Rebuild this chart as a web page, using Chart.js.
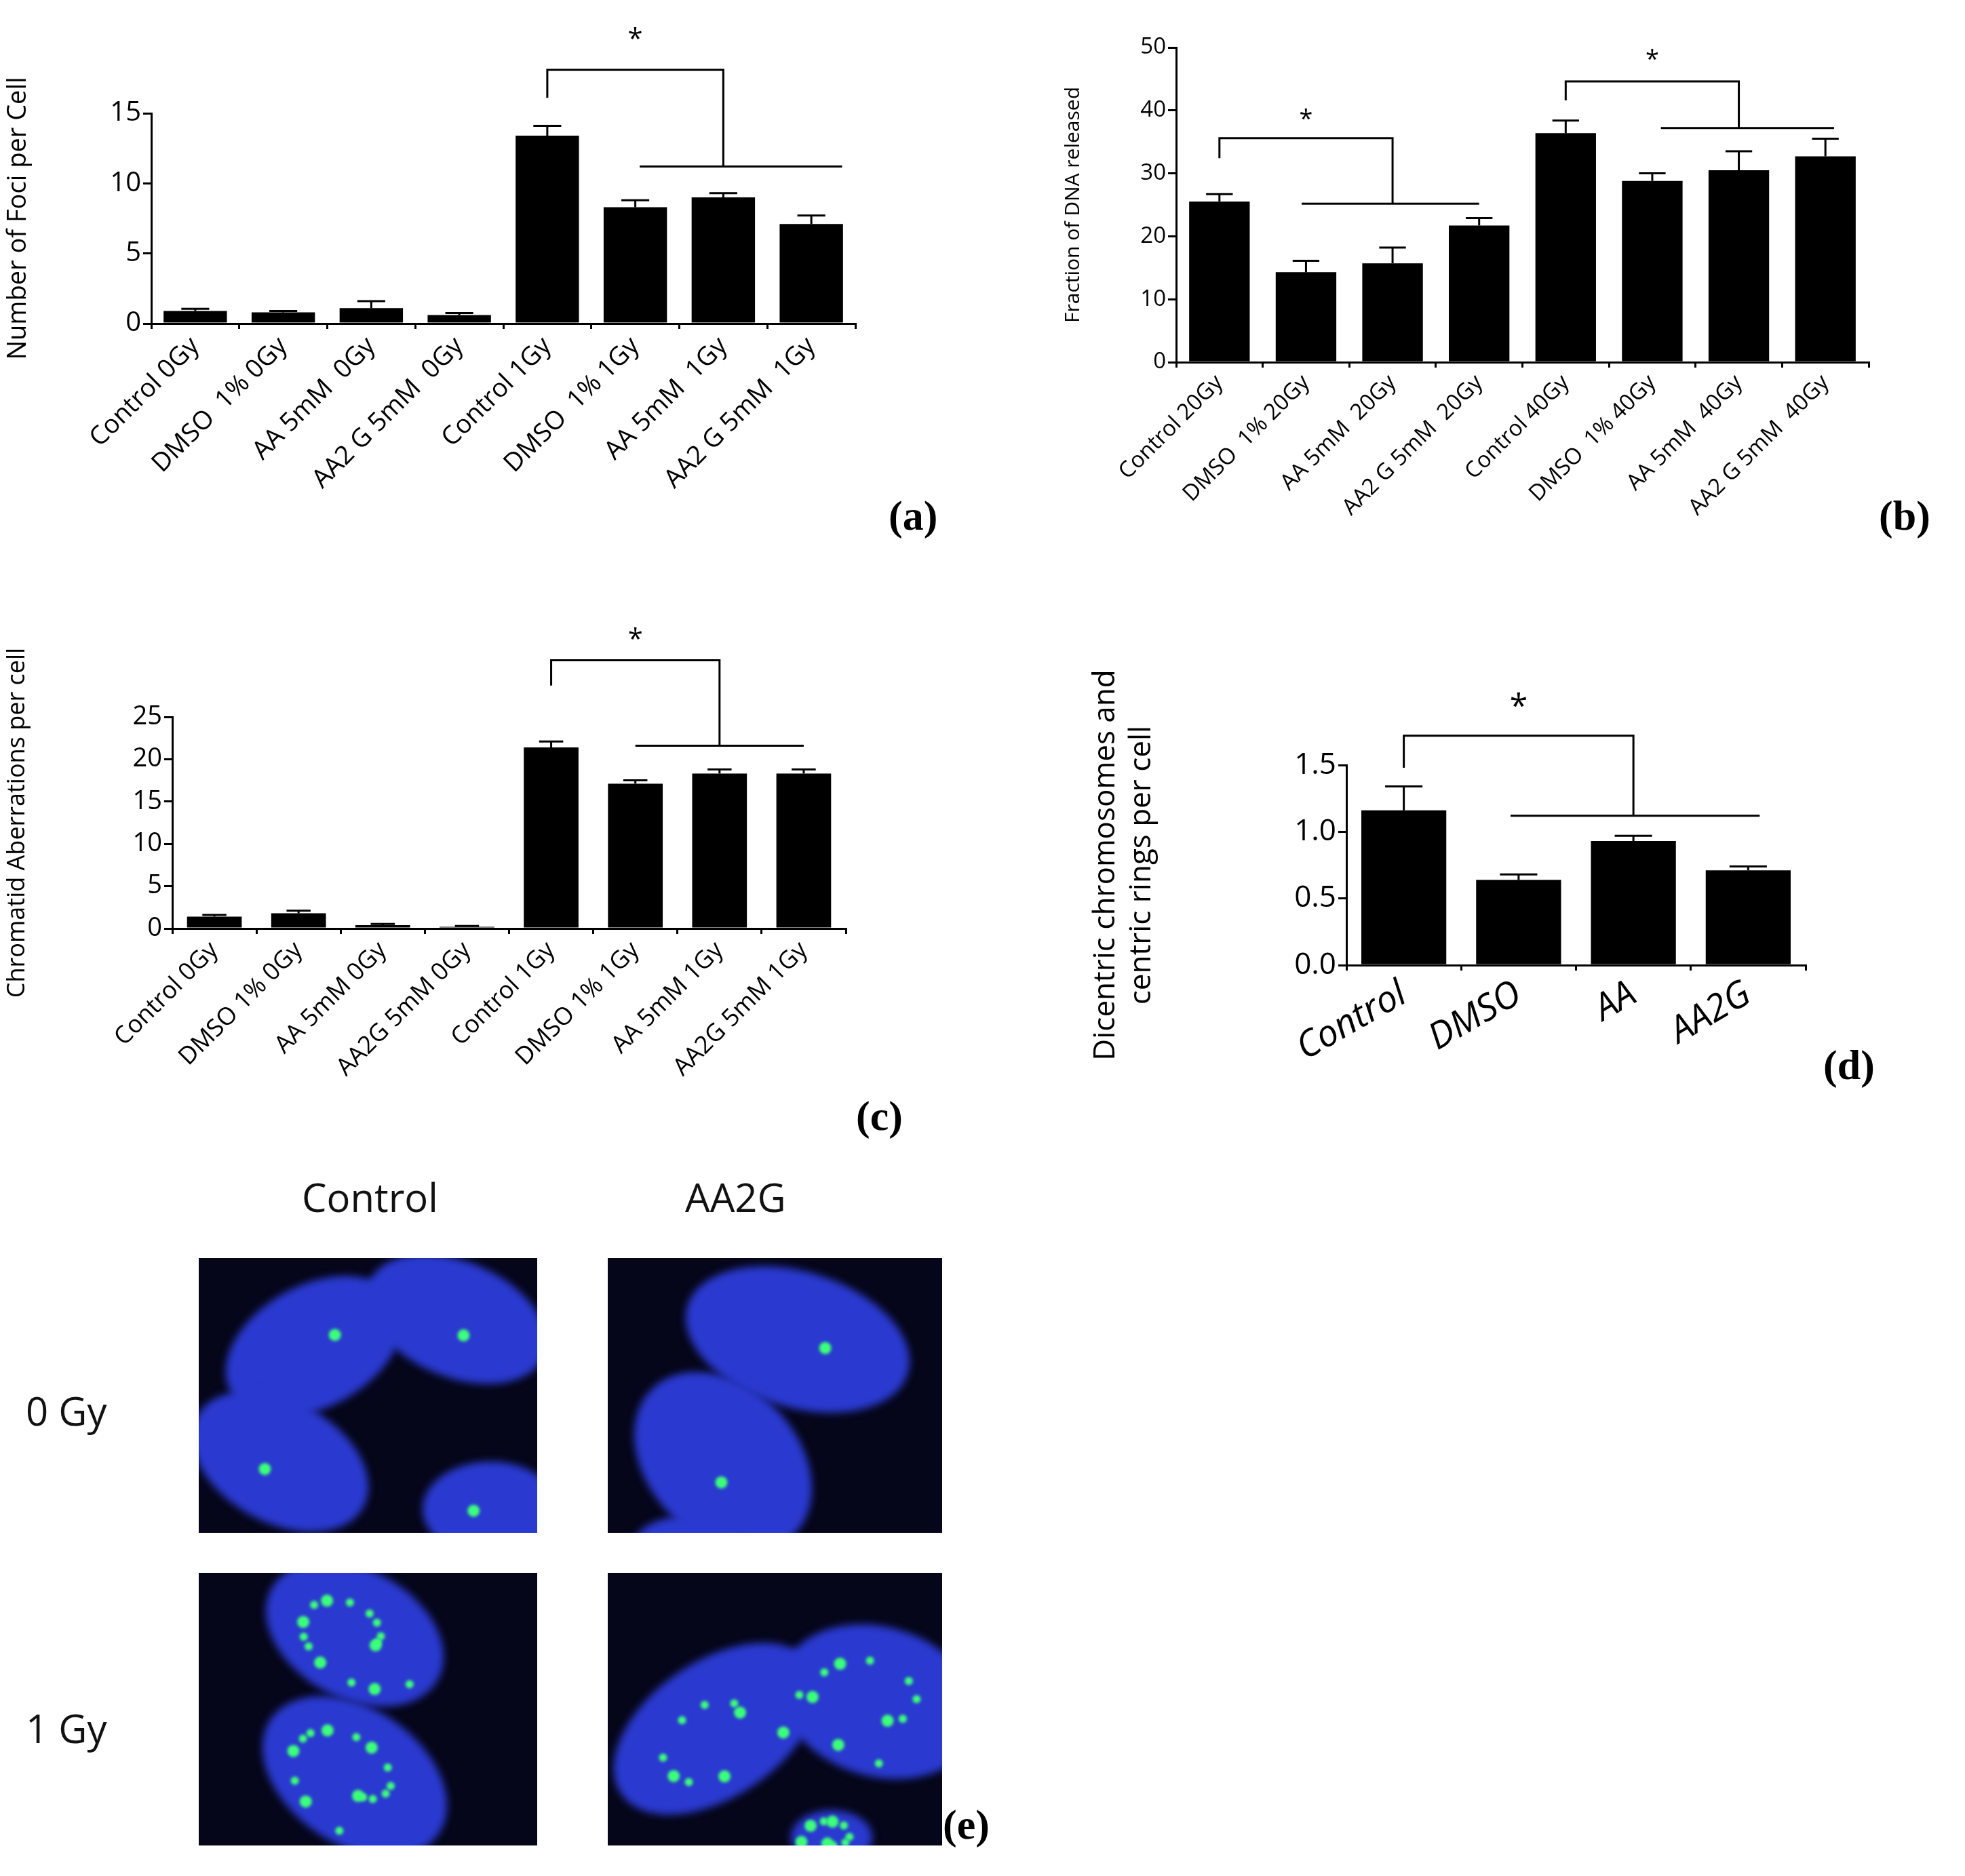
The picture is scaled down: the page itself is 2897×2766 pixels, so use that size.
<!DOCTYPE html>
<html>
<head>
<meta charset="utf-8">
<script src="https://cdn.jsdelivr.net/npm/chart.js@4.4.1/dist/chart.umd.min.js"></script>
<style>
  body { margin: 0; background: #fff; width: 2897px; height: 2766px; position: relative; overflow: hidden; font-family: "Open Sans", sans-serif; }
  .box { position: absolute; }
  .lab { position: absolute; font-family: "Liberation Serif", serif; font-weight: bold; font-size: 62px; }
  .txt { position: absolute; font-size: 58px; color: #111; }
</style>
</head>
<body>
<div class="box" style="left:0;top:0;width:1290px;height:777px"><canvas id="chartA"></canvas></div>
<div class="box" style="left:1560px;top:0;width:1225px;height:814px"><canvas id="chartB"></canvas></div>
<div class="box" style="left:0;top:900px;width:1280px;height:769px"><canvas id="chartC"></canvas></div>
<div class="box" style="left:1600px;top:980px;width:1100px;height:643px"><canvas id="chartD"></canvas></div>
<canvas id="cells" class="box" style="left:0;top:0" width="1500" height="2766"></canvas>

<div class="lab" style="left:1310px;top:725px">(a)</div>
<div class="lab" style="left:2770px;top:725px">(b)</div>
<div class="lab" style="left:1262px;top:1610px">(c)</div>
<div class="lab" style="left:2688px;top:1535px">(d)</div>
<div class="lab" style="left:1390px;top:2655px">(e)</div>
<div class="txt" style="left:445px;top:1725px">Control</div>
<div class="txt" style="left:1010px;top:1725px">AA2G</div>
<div class="txt" style="left:38px;top:2040px">0 Gy</div>
<div class="txt" style="left:38px;top:2508px">1 Gy</div>

<script>
// ---- data ----
const labelsA = ['Control 0Gy', 'DMSO  1% 0Gy', 'AA 5mM  0Gy', 'AA2 G 5mM  0Gy', 'Control 1Gy', 'DMSO  1% 1Gy', 'AA 5mM  1Gy', 'AA2 G 5mM  1Gy'];
const valuesA = [0.9, 0.8, 1.1, 0.6, 13.4, 8.3, 9.0, 7.1];
const errorsA = [0.15, 0.1, 0.5, 0.15, 0.7, 0.5, 0.3, 0.6];

const labelsB = ['Control 20Gy', 'DMSO  1% 20Gy', 'AA 5mM  20Gy', 'AA2 G 5mM  20Gy', 'Control 40Gy', 'DMSO  1% 40Gy', 'AA 5mM  40Gy', 'AA2 G 5mM  40Gy'];
const valuesB = [25.5, 14.3, 15.7, 21.7, 36.4, 28.8, 30.5, 32.7];
const errorsB = [1.2, 1.8, 2.5, 1.2, 2.0, 1.2, 3.0, 2.8];

const labelsC = ['Control 0Gy', 'DMSO 1% 0Gy', 'AA 5mM 0Gy', 'AA2G 5mM 0Gy', 'Control 1Gy', 'DMSO 1% 1Gy', 'AA 5mM 1Gy', 'AA2G 5mM 1Gy'];
const valuesC = [1.4, 1.8, 0.4, 0.2, 21.4, 17.1, 18.3, 18.3];
const errorsC = [0.2, 0.3, 0.15, 0.1, 0.7, 0.4, 0.5, 0.5];

const labelsD = ['Control', 'DMSO', 'AA', 'AA2G'];
const valuesD = [1.16, 0.64, 0.93, 0.71];
const errorsD = [0.18, 0.04, 0.04, 0.03];

// significance brackets: from bar i, to bar j, joining line between lineFrom..lineTo
const bracketA = [{ from: 4, to: 6, top: 18.1, leg: 16.1, lineY: 11.2, lineFrom: 5.05, lineTo: 7.35, star: 20.2 }];
const bracketB = [
    { from: 0, to: 2, top: 35.6, leg: 32.4, lineY: 25.2, lineFrom: 0.95, lineTo: 3.0, star: 38.5 },
    { from: 4, to: 6, top: 44.6, leg: 41.6, lineY: 37.2, lineFrom: 5.1, lineTo: 7.1, star: 48 }
];
const bracketC = [{ from: 4, to: 6, top: 31.7, leg: 28.7, lineY: 21.6, lineFrom: 5.0, lineTo: 7.0, star: 34 }];
const bracketD = [{ from: 0, to: 2, top: 1.72, leg: 1.48, lineY: 1.12, lineFrom: 0.93, lineTo: 3.1, star: 1.93 }];

/* ==============================
   PLUGINS
================================= */

const errorBars = {
    id: 'errorBars',
    afterDatasetsDraw(chart, args, opts) {
        const ctx = chart.ctx;
        const meta = chart.getDatasetMeta(0);
        const y = chart.scales.y;
        ctx.save();
        ctx.strokeStyle = '#000';
        ctx.lineWidth = 3;
        meta.data.forEach((bar, i) => {
            const v = chart.data.datasets[0].data[i];
            const top = y.getPixelForValue(v + opts.errors[i]);
            const cap = bar.width * 0.22;
            ctx.beginPath();
            ctx.moveTo(bar.x, bar.y);
            ctx.lineTo(bar.x, top);
            ctx.moveTo(bar.x - cap, top);
            ctx.lineTo(bar.x + cap, top);
            ctx.stroke();
        });
        ctx.restore();
    }
};

const brackets = {
    id: 'brackets',
    afterDraw(chart, args, opts) {
        const ctx = chart.ctx;
        const x = chart.scales.x, y = chart.scales.y;
        ctx.save();
        ctx.strokeStyle = '#000';
        ctx.fillStyle = '#000';
        ctx.lineWidth = 3;
        opts.list.forEach(b => {
            const x1 = x.getPixelForValue(b.from), x2 = x.getPixelForValue(b.to);
            ctx.beginPath();
            ctx.moveTo(x1, y.getPixelForValue(b.leg));
            ctx.lineTo(x1, y.getPixelForValue(b.top));
            ctx.lineTo(x2, y.getPixelForValue(b.top));
            ctx.lineTo(x2, y.getPixelForValue(b.lineY));
            ctx.moveTo(x.getPixelForValue(b.lineFrom), y.getPixelForValue(b.lineY));
            ctx.lineTo(x.getPixelForValue(b.lineTo), y.getPixelForValue(b.lineY));
            ctx.stroke();
            ctx.font = (opts.starSize || 34) + 'px "Open Sans"';
            ctx.textAlign = 'center';
            ctx.textBaseline = 'middle';
            ctx.fillText('*', (x1 + x2) / 2, y.getPixelForValue(b.star));
        });
        ctx.restore();
    }
};

/* ==============================
   PANEL BUILDER
================================= */

function makePanel(id, p) {
    return new Chart(document.getElementById(id), {
        type: 'bar',
        data: {
            labels: p.labels,
            datasets: [{
                data: p.values,
                backgroundColor: '#000',
                categoryPercentage: 1,
                barPercentage: p.barPct
            }]
        },
        options: {
            responsive: true,
            maintainAspectRatio: false,
            animation: false,
            layout: { padding: { top: p.padTop, right: p.padRight || 0 } },
            plugins: {
                legend: { display: false },
                tooltip: { enabled: false },
                errorBars: { errors: p.errors },
                brackets: { list: p.brackets, starSize: p.starSize }
            },
            scales: {
                x: {
                    grid: { drawOnChartArea: false, color: '#000', lineWidth: 3, tickLength: 8, offset: true },
                    border: { color: '#000', width: 3 },
                    ticks: {
                        color: '#000', maxRotation: p.rot, minRotation: p.rot, autoSkip: false,
                        font: { size: p.xFont, family: 'Open Sans', style: p.xStyle || 'normal' }
                    },
                    afterFit: s => { s.height = p.xHeight; }
                },
                y: {
                    min: 0, max: p.max,
                    grid: { drawOnChartArea: false, color: '#000', lineWidth: 3, tickLength: 12 },
                    border: { color: '#000', width: 3 },
                    ticks: {
                        color: '#000', stepSize: p.step,
                        font: { size: p.yFont, family: 'Open Sans' },
                        callback: v => p.fmt ? v.toFixed(1) : v
                    },
                    title: {
                        display: true, text: p.title, color: '#000',
                        font: { size: p.titleFont, family: 'Open Sans' }, padding: 4
                    },
                    afterFit: s => { s.width = p.yWidth; }
                }
            }
        },
        plugins: [errorBars, brackets]
    });
}

makePanel('chartA', {
    labels: labelsA, values: valuesA, errors: errorsA, brackets: bracketA,
    max: 15, step: 5, barPct: 0.72, padTop: 167, padRight: 29, yWidth: 223, xHeight: 300,
    rot: 45, xFont: 38, yFont: 40, title: 'Number of Foci per Cell', titleFont: 38, starSize: 40
});

makePanel('chartB', {
    labels: labelsB, values: valuesB, errors: errorsB, brackets: bracketB,
    max: 50, step: 10, barPct: 0.7, padTop: 70, padRight: 30, yWidth: 174, xHeight: 280,
    rot: 45, xFont: 33, yFont: 33, title: 'Fraction of DNA released', titleFont: 30, starSize: 36
});

makePanel('chartC', {
    labels: labelsC, values: valuesC, errors: errorsC, brackets: bracketC,
    max: 25, step: 5, barPct: 0.65, padTop: 157, padRight: 33, yWidth: 254, xHeight: 300,
    rot: 45, xFont: 36, yFont: 38, title: 'Chromatid Aberrations per cell', titleFont: 36, starSize: 40
});

makePanel('chartD', {
    labels: labelsD, values: valuesD, errors: errorsD, brackets: bracketD,
    max: 1.5, step: 0.5, barPct: 0.74, padTop: 148, padRight: 38, yWidth: 385, xHeight: 200,
    rot: 30, xFont: 54, xStyle: 'italic', yFont: 44, fmt: true,
    title: ['Dicentric chromosomes and', 'centric rings per cell'], titleFont: 44, starSize: 48
});

/* ==============================
   MICROGRAPH PANEL (e)
================================= */

function drawCells() {
    const ctx = document.getElementById('cells').getContext('2d');
    const panes = [
        { x: 293, y: 1855, w: 499, h: 405, cells: [[170, 130, 140, 90, -0.5], [380, 90, 140, 85, 0.4], [120, 300, 140, 90, 0.5], [430, 370, 100, 70, 0]], dots: 4 },
        { x: 896, y: 1855, w: 493, h: 405, cells: [[280, 120, 170, 100, 0.3], [170, 300, 150, 110, 0.8], [120, 420, 80, 40, 0]], dots: 3 },
        { x: 293, y: 2319, w: 499, h: 402, cells: [[230, 90, 140, 95, 0.5], [230, 300, 150, 100, 0.6]], dots: 30 },
        { x: 896, y: 2319, w: 493, h: 402, cells: [[160, 230, 170, 100, -0.6], [400, 190, 150, 110, 0.3], [330, 390, 60, 40, 0]], dots: 30 }
    ];
    panes.forEach(p => {
        ctx.save();
        ctx.beginPath();
        ctx.rect(p.x, p.y, p.w, p.h);
        ctx.clip();
        ctx.fillStyle = '#05061a';
        ctx.fillRect(p.x, p.y, p.w, p.h);
        ctx.filter = 'blur(6px)';
        p.cells.forEach(c => {
            ctx.fillStyle = '#2a3ad0';
            ctx.beginPath();
            ctx.ellipse(p.x + c[0], p.y + c[1], c[2], c[3], c[4], 0, Math.PI * 2);
            ctx.fill();
        });
        ctx.filter = 'blur(2px)';
        ctx.fillStyle = '#3cff7a';
        // fixed spots placed along the nuclei
        p.cells.forEach((c, k) => {
            const n = Math.round(p.dots / p.cells.length);
            for (let i = 0; i < n; i++) {
                const a = i * 2.4 + k;
                const r = 0.25 + ((i * 37) % 60) / 100;
                const dx = Math.cos(a) * c[2] * r, dy = Math.sin(a) * c[3] * r;
                const px = p.x + c[0] + dx * Math.cos(c[4]) - dy * Math.sin(c[4]);
                const py = p.y + c[1] + dx * Math.sin(c[4]) + dy * Math.cos(c[4]);
                ctx.beginPath();
                ctx.arc(px, py, i % 3 === 0 ? 9 : 6, 0, Math.PI * 2);
                ctx.fill();
            }
        });
        ctx.restore();
    });
}
drawCells();
</script>
</body>
</html>
